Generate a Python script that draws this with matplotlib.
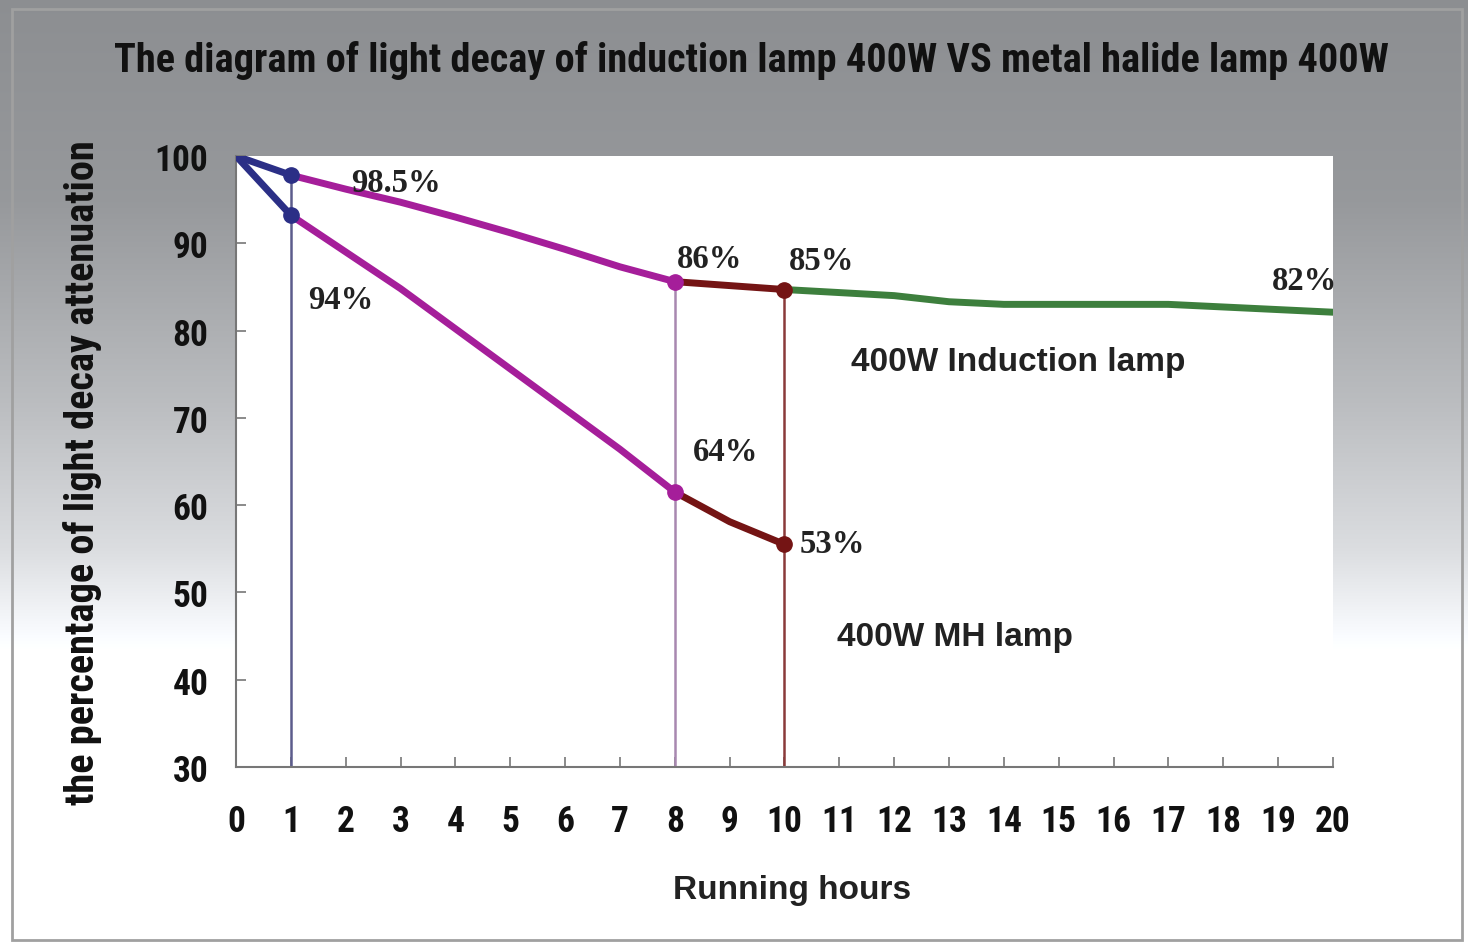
import numpy as np
from matplotlib import pyplot as plt
from matplotlib import font_manager as fm
from matplotlib.patches import Rectangle

# look for a condensed bold sans face, fall back to Liberation Sans bold
prefer = ['LiberationSansNarrow-Bold', 'RobotoCondensed-Bold', 'Roboto_Condensed-Bold',
          'OpenSans_Condensed-Bold', 'OpenSansCondensed-Bold', 'DejaVuSansCondensed-Bold']
narrow_fp = None
files = [f.fname for f in fm.fontManager.ttflist]
for p in prefer:
    hit = [f for f in files if p.lower() in f.lower().replace(' ', '')]
    if hit:
        narrow_fp = fm.FontProperties(fname=hit[0])
        break
if narrow_fp is None:
    narrow_fp = fm.FontProperties(family='Liberation Sans', weight='bold')

# data
hours_ind = [0, 1, 2, 3, 4, 5, 6, 7, 8, 10, 12, 13, 14, 16, 17, 18, 20]
ind_val = [100, 97.8, 96.2, 94.7, 93.0, 91.2, 89.3, 87.3, 85.6, 84.7, 84.0, 83.3, 83.0,
           83.0, 83.0, 82.7, 82.1]
hours_mh = [0, 1, 2, 3, 4, 5, 6, 7, 8, 9, 10]
mh_val = [100, 93.2, 89.0, 84.8, 80.2, 75.6, 71.0, 66.4, 61.5, 58.1, 55.5]

# segment boundaries and colours (hours)
seg_edges = [0, 1, 8, 10, 20]
seg_colors = ['#2b2f86', '#a51e9a', '#741414', '#3d7f3d']
vline_hours = [1, 8, 10]
vline_colors = ['#5c5c8c', '#a888b0', '#8a3a3a']

labels = ['98.5%', '94%', '86%', '85%', '82%', '64%', '53%']
label_x = [2.92, 1.9, 8.64, 10.68, 19.49, 8.92, 10.88]
label_y = [97.0, 83.6, 88.2, 88.0, 85.7, 66.1, 55.6]

fig = plt.figure(figsize=(14.68, 9.45), dpi=100)

# grey-to-white background gradient (slightly bluish grey at the top)
bg = fig.add_axes([0, 0, 1, 1], zorder=-10)
ypx = np.arange(945)
shade = np.interp(ypx, [0, 200, 400, 550, 650], [0.55, 0.59, 0.73, 0.86, 1.0])
img = np.stack([shade, np.minimum(shade + 0.008, 1), np.minimum(shade + 0.02, 1)], axis=-1)
img = img[:, None, :] * np.ones((1, 10, 1))
bg.imshow(img, aspect='auto', extent=[0, 1, 0, 1], origin='upper')
bg.add_patch(Rectangle((0.008, 0.004), 0.988, 0.985, fill=False, ec='#a0a0a0', lw=2))
bg.set_xlim(0, 1)
bg.set_ylim(0, 1)
bg.axis('off')

ax = fig.add_axes([0.1608, 0.1873, 0.7472, 0.6466])
ax.set_facecolor('white')


def draw_series(hrs, vals):
    hrs = np.array(hrs)
    vals = np.array(vals)
    for i in range(len(seg_edges) - 1):
        m = (hrs >= seg_edges[i]) & (hrs <= seg_edges[i + 1])
        if m.sum() > 1:
            ax.plot(hrs[m], vals[m], color=seg_colors[i], lw=5, solid_capstyle='round', zorder=3)


draw_series(hours_ind, ind_val)
draw_series(hours_mh, mh_val)

# vertical guide lines and markers
for h, c in zip(vline_hours, vline_colors):
    top = ind_val[hours_ind.index(h)]
    ax.plot([h, h], [30, top], color=c, lw=1.8, zorder=2)
for h, c in zip(vline_hours, seg_colors[:3]):
    ax.plot([h, h], [ind_val[hours_ind.index(h)], mh_val[hours_mh.index(h)]], 'o',
            color=c, ms=11, zorder=4)

for t, x, y in zip(labels, label_x, label_y):
    ax.text(x, y, t, ha='center', va='center', fontsize=23.5, fontweight='bold',
            family='Liberation Serif', color='#222222')

ax.text(14.26, 76.4, '400W Induction lamp', ha='center', va='center', fontsize=24,
        fontweight='bold', family='Liberation Sans', color='#222222')
ax.text(13.11, 45.0, '400W MH lamp', ha='center', va='center', fontsize=24,
        fontweight='bold', family='Liberation Sans', color='#222222')

ax.set_xlim(0, 20)
ax.set_ylim(30, 100)
ax.set_xticks(range(0, 21))
ax.set_yticks(range(30, 101, 10))
ax.tick_params(direction='in', length=7, width=1.2, color='#777777')
ax.tick_params(axis='x', pad=26)
ax.tick_params(axis='y', pad=20)
for lab in ax.get_xticklabels() + ax.get_yticklabels():
    lab.set_fontproperties(narrow_fp)
    lab.set_fontsize(27)
    lab.set_color('#111111')
for s in ['top', 'right']:
    ax.spines[s].set_visible(False)
for s in ['left', 'bottom']:
    ax.spines[s].set_color('#777777')
    ax.spines[s].set_linewidth(1.5)

title = fig.text(0.512, 0.936, 'The diagram of light decay of induction lamp 400W VS metal halide lamp 400W',
                 ha='center', va='center', fontproperties=narrow_fp, fontsize=30, color='#111111')
ylab = fig.text(0.0565, 0.5, 'the percentage of light decay attenuation', rotation=90,
                ha='center', va='center', fontproperties=narrow_fp, fontsize=25, color='#111111')
fig.text(0.5395, 0.058, 'Running hours', ha='center', va='center', fontsize=24,
         fontweight='bold', family='Liberation Sans', color='#222222')

# fit the long texts to the width they take in the picture
ren = fig.canvas.get_renderer()
for txt, target, horiz in [(title, 1273, True), (ylab, 665, False)]:
    for _ in range(2):
        bb = txt.get_window_extent(ren)
        size = bb.width if horiz else bb.height
        txt.set_fontsize(txt.get_fontsize() * target / size)

# keep tick labels from crowding: "10" about 34 px wide
probe = ax.get_xticklabels()[10]
bb = probe.get_window_extent(ren)
if bb.width > 36:
    for lab in ax.get_xticklabels() + ax.get_yticklabels():
        lab.set_fontsize(27 * 36 / bb.width)

plt.savefig('out.png', dpi=100)
